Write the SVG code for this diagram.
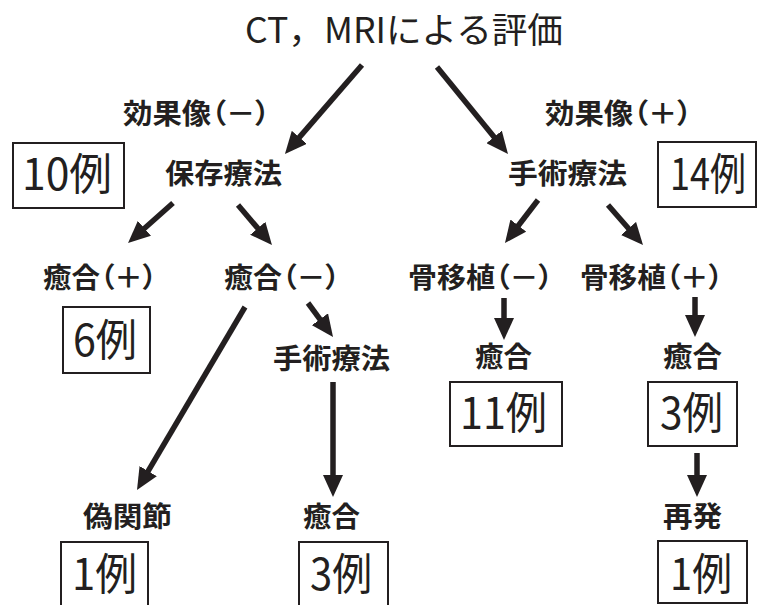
<svg xmlns="http://www.w3.org/2000/svg" width="760" height="605" viewBox="0 0 760 605">
<style>
.title{font-family:"Noto Sans CJK JP","Liberation Sans",sans-serif;font-size:35px;fill:#231f20}
.lbl{font-family:"Noto Sans CJK JP",sans-serif;font-size:28px;font-weight:700;fill:#231f20;font-feature-settings:"palt"}
.num{font-family:"Noto Sans CJK JP",sans-serif;font-size:44px;font-weight:400;fill:#231f20}
.box{fill:none;stroke:#231f20;stroke-width:2}
.arr{stroke:#231f20;stroke-width:5.5;fill:none;marker-end:url(#ah)}
</style>
<defs>
<marker id="ah" markerUnits="userSpaceOnUse" markerWidth="22" markerHeight="20" refX="10" refY="10" orient="auto">
<path d="M0,0 L22,10 L0,20 z" fill="#231f20"/>
</marker>
</defs>
<rect width="760" height="605" fill="#ffffff"/>
<g id="connectors">
<line class="arr" x1="362" y1="65" x2="292.8" y2="144.9"/>
<line class="arr" x1="437" y1="67" x2="500.4" y2="144.7"/>
<line class="arr" x1="173" y1="203" x2="137" y2="235"/>
<line class="arr" x1="238" y1="205" x2="264.2" y2="235.9"/>
<line class="arr" x1="538" y1="200" x2="512.3" y2="233.5"/>
<line class="arr" x1="608" y1="205" x2="635.1" y2="236"/>
<line class="arr" x1="245" y1="307" x2="143.1" y2="479.7"/>
<line class="arr" x1="308" y1="303" x2="325.9" y2="327.3"/>
<line class="arr" x1="333" y1="382" x2="333" y2="485"/>
<line class="arr" x1="504" y1="298" x2="504" y2="328"/>
<line class="arr" x1="695" y1="297" x2="695" y2="325"/>
<line class="arr" x1="697" y1="453" x2="697" y2="485"/>
</g>
<g id="n-title"><text class="title" x="245" y="43" textLength="318" lengthAdjust="spacingAndGlyphs">CT，MRIによる評価</text></g>
<g id="n-eff-minus"><text class="lbl" x="123" y="124" textLength="147" lengthAdjust="spacingAndGlyphs">効果像（－）</text></g>
<g id="n-eff-plus"><text class="lbl" x="545" y="124" textLength="147" lengthAdjust="spacingAndGlyphs">効果像（＋）</text></g>
<g id="n-10"><rect class="box" x="13" y="143" width="111" height="65"/><text class="num" x="22" y="190" textLength="90" lengthAdjust="spacingAndGlyphs">10例</text></g>
<g id="n-conservative"><text class="lbl" x="165" y="184" textLength="117" lengthAdjust="spacingAndGlyphs">保存療法</text></g>
<g id="n-surgery"><text class="lbl" x="508" y="184" textLength="119" lengthAdjust="spacingAndGlyphs">手術療法</text></g>
<g id="n-14"><rect class="box" x="658" y="142" width="98" height="65"/><text class="num" x="670" y="190" textLength="76" lengthAdjust="spacingAndGlyphs">14例</text></g>
<g id="n-union-plus"><text class="lbl" x="43" y="288" textLength="114" lengthAdjust="spacingAndGlyphs">癒合（＋）</text></g>
<g id="n-union-minus"><text class="lbl" x="224" y="288" textLength="116" lengthAdjust="spacingAndGlyphs">癒合（－）</text></g>
<g id="n-graft-minus"><text class="lbl" x="408" y="288" textLength="145" lengthAdjust="spacingAndGlyphs">骨移植（－）</text></g>
<g id="n-graft-plus"><text class="lbl" x="580" y="288" textLength="143" lengthAdjust="spacingAndGlyphs">骨移植（＋）</text></g>
<g id="n-6"><rect class="box" x="63" y="307" width="87" height="66"/><text class="num" x="73" y="356" textLength="64" lengthAdjust="spacingAndGlyphs">6例</text></g>
<g id="n-surgery2"><text class="lbl" x="273" y="369" textLength="117" lengthAdjust="spacingAndGlyphs">手術療法</text></g>
<g id="n-union-a"><text class="lbl" x="475" y="367" textLength="57" lengthAdjust="spacingAndGlyphs">癒合</text></g>
<g id="n-union-b"><text class="lbl" x="663" y="367" textLength="59" lengthAdjust="spacingAndGlyphs">癒合</text></g>
<g id="n-11"><rect class="box" x="450" y="382" width="112" height="64"/><text class="num" x="460" y="429" textLength="87" lengthAdjust="spacingAndGlyphs">11例</text></g>
<g id="n-3a"><rect class="box" x="648" y="382" width="89" height="64"/><text class="num" x="660" y="429" textLength="63" lengthAdjust="spacingAndGlyphs">3例</text></g>
<g id="n-pseudo"><text class="lbl" x="83" y="527" textLength="89" lengthAdjust="spacingAndGlyphs">偽関節</text></g>
<g id="n-union-c"><text class="lbl" x="303" y="527" textLength="57" lengthAdjust="spacingAndGlyphs">癒合</text></g>
<g id="n-recur"><text class="lbl" x="663" y="527" textLength="59" lengthAdjust="spacingAndGlyphs">再発</text></g>
<g id="n-1a"><rect class="box" x="61" y="542" width="87" height="66"/><text class="num" x="72" y="590" textLength="65" lengthAdjust="spacingAndGlyphs">1例</text></g>
<g id="n-3b"><rect class="box" x="299" y="542" width="89" height="66"/><text class="num" x="310" y="590" textLength="62" lengthAdjust="spacingAndGlyphs">3例</text></g>
<g id="n-1b"><rect class="box" x="658" y="541" width="89" height="62"/><text class="num" x="670" y="590" textLength="62" lengthAdjust="spacingAndGlyphs">1例</text></g>
</svg>
